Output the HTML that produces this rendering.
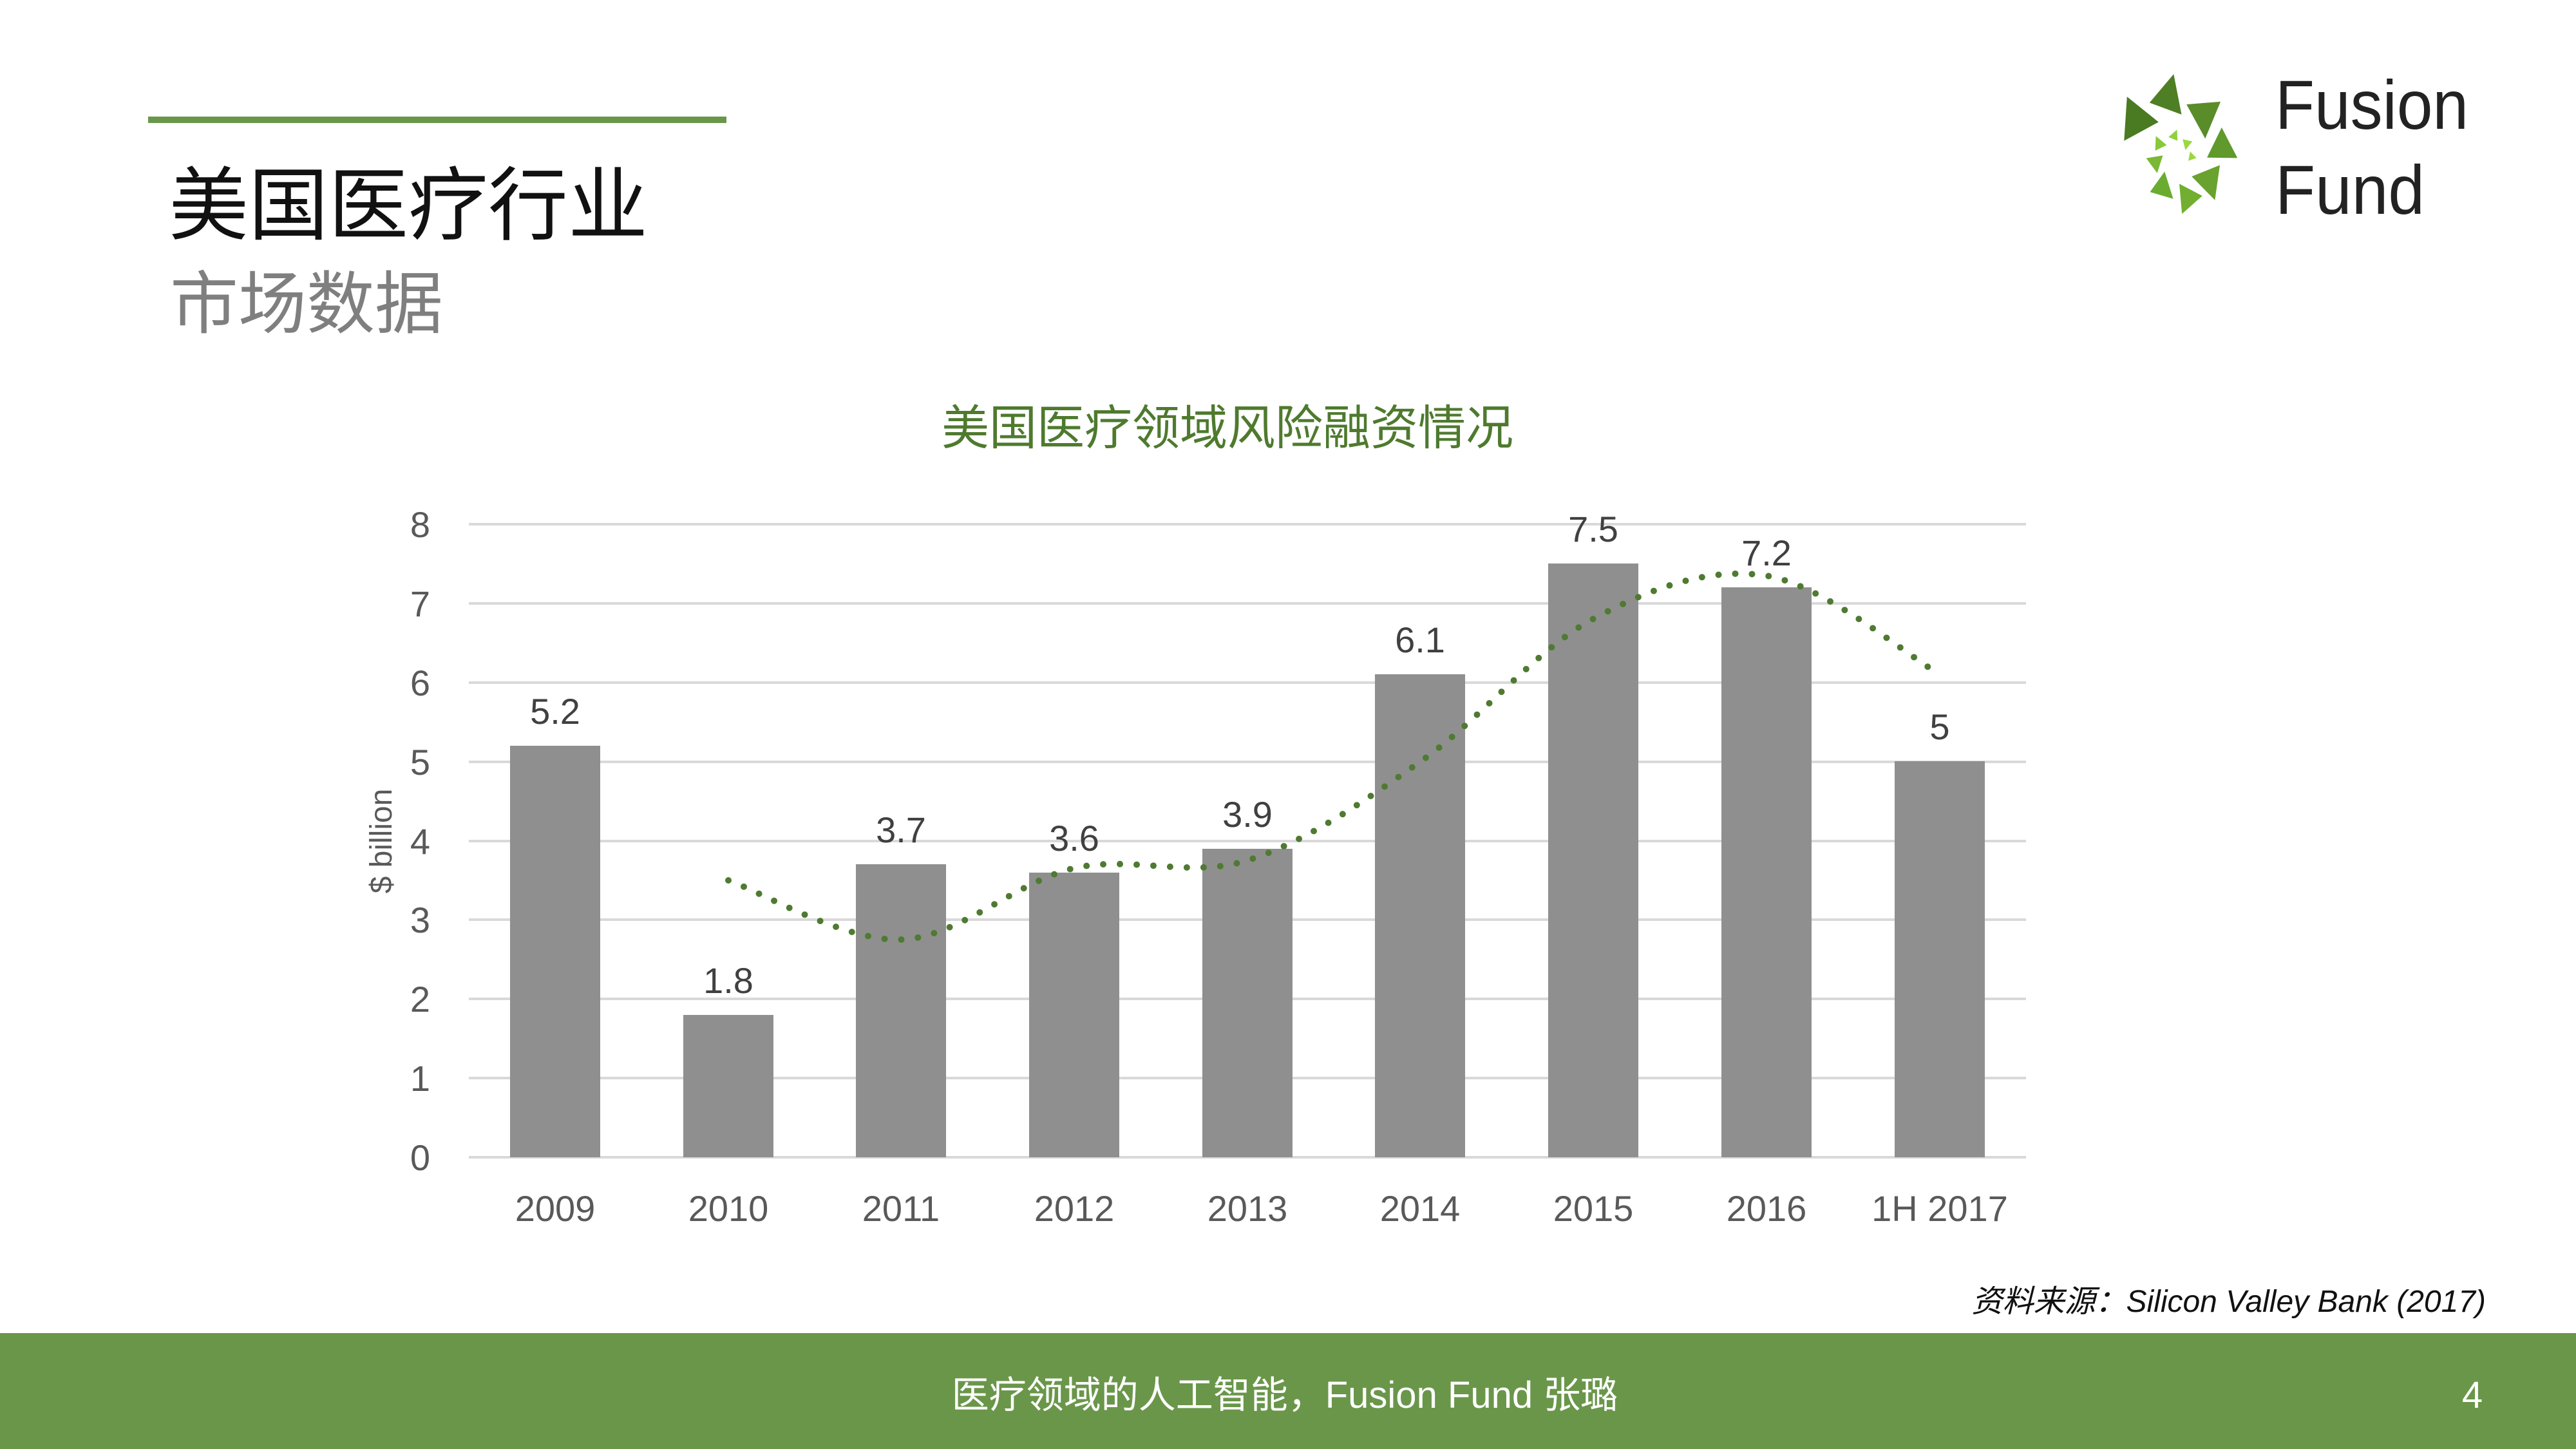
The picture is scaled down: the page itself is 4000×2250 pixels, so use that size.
<!DOCTYPE html>
<html><head><meta charset="utf-8"><style>
html,body{margin:0;padding:0;background:#fff;}
body{width:4000px;height:2250px;overflow:hidden;position:relative;font-family:"Liberation Sans","Noto Sans CJK SC",sans-serif;}
</style></head><body>
<svg width="4000" height="2250" viewBox="0 0 4000 2250" xmlns="http://www.w3.org/2000/svg" style="position:absolute;left:0;top:0" font-family="Liberation Sans, Noto Sans CJK SC, sans-serif">
<rect x="230" y="181" width="898" height="10" fill="#6a964a"/>
<text x="262" y="362" font-size="124" fill="#111">美国医疗行业</text>
<text x="264" y="509" font-size="106" fill="#7f7f7f">市场数据</text>
<text x="1906" y="690" font-size="74" fill="#4e7a2e" text-anchor="middle">美国医疗领域风险融资情况</text>
<g stroke="#d9d9d9" stroke-width="4">
<line x1="728" y1="814" x2="3146" y2="814"/><line x1="728" y1="937" x2="3146" y2="937"/>
<line x1="728" y1="1060" x2="3146" y2="1060"/><line x1="728" y1="1183" x2="3146" y2="1183"/>
<line x1="728" y1="1306" x2="3146" y2="1306"/><line x1="728" y1="1428" x2="3146" y2="1428"/>
<line x1="728" y1="1551" x2="3146" y2="1551"/><line x1="728" y1="1674" x2="3146" y2="1674"/>
<line x1="728" y1="1797" x2="3146" y2="1797"/>
</g>
<g fill="#8f8f8f">
<rect x="792" y="1158" width="140" height="639"/><rect x="1061" y="1576" width="140" height="221"/>
<rect x="1329" y="1342" width="140" height="455"/><rect x="1598" y="1355" width="140" height="442"/>
<rect x="1867" y="1318" width="140" height="479"/><rect x="2135" y="1047" width="140" height="750"/>
<rect x="2404" y="875" width="140" height="922"/><rect x="2673" y="912" width="140" height="885"/>
<rect x="2942" y="1182" width="140" height="615"/>
</g>
<path d="M1131,1367 C1176,1382 1310,1462 1399,1459 C1488,1456 1578,1369 1668,1348 C1758,1328 1848,1364 1937,1336 C2026,1308 2116,1246 2205,1183 C2295,1121 2384,1009 2474,961 C2564,913 2653,880 2743,894 C2833,908 2967,1022 3012,1047" fill="none" stroke="#4f7a32" stroke-width="10" stroke-linecap="round" stroke-dasharray="0 26"/>
<g font-size="56" fill="#404040" text-anchor="middle">
<text x="862" y="1124">5.2</text><text x="1131" y="1542">1.8</text><text x="1399" y="1308">3.7</text>
<text x="1668" y="1321">3.6</text><text x="1937" y="1284">3.9</text><text x="2205" y="1013">6.1</text>
<text x="2474" y="841">7.5</text><text x="2743" y="878">7.2</text><text x="3012" y="1148">5</text>
</g>
<g font-size="56" fill="#595959" text-anchor="end">
<text x="668" y="834">8</text><text x="668" y="957">7</text><text x="668" y="1080">6</text>
<text x="668" y="1203">5</text><text x="668" y="1326">4</text><text x="668" y="1448">3</text>
<text x="668" y="1571">2</text><text x="668" y="1694">1</text><text x="668" y="1817">0</text>
</g>
<g font-size="56" fill="#595959" text-anchor="middle">
<text x="862" y="1896">2009</text><text x="1131" y="1896">2010</text><text x="1399" y="1896">2011</text>
<text x="1668" y="1896">2012</text><text x="1937" y="1896">2013</text><text x="2205" y="1896">2014</text>
<text x="2474" y="1896">2015</text><text x="2743" y="1896">2016</text><text x="3012" y="1896">1H 2017</text>
</g>
<text transform="translate(608,1306) rotate(-90)" font-size="48" fill="#595959" text-anchor="middle">$ billion</text>
<text x="3860" y="2037" font-size="48" font-style="italic" fill="#111" text-anchor="end">资料来源：Silicon Valley Bank (2017)</text>
<rect x="0" y="2070" width="4000" height="180" fill="#6a964a"/>
<text x="1995" y="2186" font-size="58" fill="#fff" text-anchor="middle">医疗领域的人工智能，Fusion Fund 张璐</text>
<text x="3839" y="2186" font-size="58" fill="#fff" text-anchor="middle">4</text>
<g transform="translate(3258,81) scale(0.35,0.334)">
<polygon points="128,207 268,325 115,412" fill="#4a7a22"/>
<polygon points="228,235 335,102 370,290" fill="#4e7f24"/>
<polygon points="392,243 543,230 475,402" fill="#5a8c2a"/>
<polygon points="548,350 618,492 483,490" fill="#609a2c"/>
<polygon points="415,578 540,525 518,688" fill="#6aa22f"/>
<polygon points="360,612 462,668 372,752" fill="#72ae30"/>
<polygon points="230,650 295,555 333,682" fill="#6aac30"/>
<polygon points="213,493 287,480 262,562" fill="#7ab835"/>
<polygon points="256,390 304,432 253,458" fill="#88c83a"/>
<polygon points="312,395 350,360 352,412" fill="#8fd13c"/>
<polygon points="375,405 418,415 387,455" fill="#9ad83c"/>
<polygon points="408,462 436,492 400,505" fill="#9ad83c"/>
</g>
<text x="3533" y="200" font-size="108" fill="#222" textLength="300" lengthAdjust="spacingAndGlyphs">Fusion</text>
<text x="3533" y="332" font-size="108" fill="#222" textLength="232" lengthAdjust="spacingAndGlyphs">Fund</text>
</svg>
</body></html>
